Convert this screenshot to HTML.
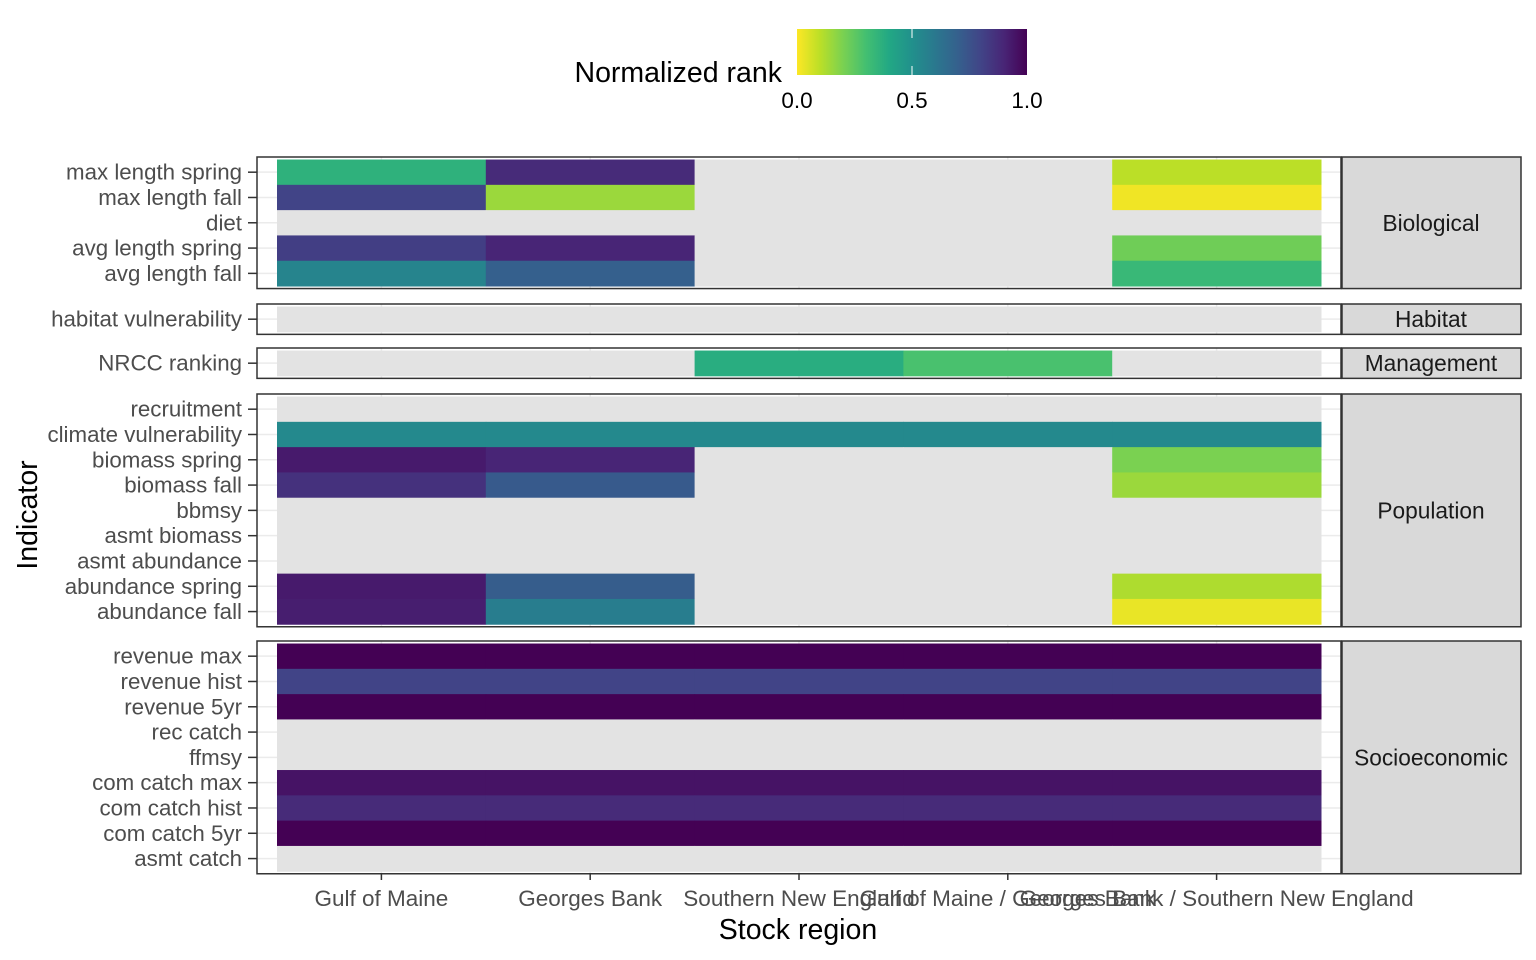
<!DOCTYPE html>
<html><head><meta charset="utf-8"><style>
body{margin:0;background:#fff;}
svg{display:block;font-family:"Liberation Sans",Arial,sans-serif;}
</style></head><body>
<svg id="chart" width="1536" height="960" viewBox="0 0 1536 960" xmlns="http://www.w3.org/2000/svg">
<defs>
<linearGradient id="vg" x1="0" x2="1" y1="0" y2="0">
<stop offset="0" stop-color="#FDE725"/><stop offset="0.1" stop-color="#BBDF27"/><stop offset="0.2" stop-color="#7AD151"/><stop offset="0.3" stop-color="#43BF71"/><stop offset="0.4" stop-color="#22A884"/><stop offset="0.5" stop-color="#21908C"/><stop offset="0.6" stop-color="#2A788E"/><stop offset="0.7" stop-color="#35608D"/><stop offset="0.8" stop-color="#414487"/><stop offset="0.9" stop-color="#482576"/><stop offset="1" stop-color="#440154"/>
</linearGradient>
</defs>
<g id="legend">
<text x="782" y="82" text-anchor="end" font-size="28.5" fill="#000">Normalized rank</text>
<rect x="797" y="29" width="230" height="46" fill="url(#vg)"/>
<line x1="912" y1="29" x2="912" y2="38" stroke="#fff" stroke-width="1"/>
<line x1="912" y1="66" x2="912" y2="75" stroke="#fff" stroke-width="1"/>
<text x="797" y="108" text-anchor="middle" font-size="22.5" fill="#000">0.0</text>
<text x="912" y="108" text-anchor="middle" font-size="22.5" fill="#000">0.5</text>
<text x="1027" y="108" text-anchor="middle" font-size="22.5" fill="#000">1.0</text>
</g>
<g id="plot"></g>
<text x="798" y="939" text-anchor="middle" font-size="28.5" fill="#000">Stock region</text>
<text transform="translate(37,515) rotate(-90)" text-anchor="middle" font-size="28.5" fill="#000">Indicator</text>
</svg>
<script>
const regions = ["Gulf of Maine","Georges Bank","Southern New England","Gulf of Maine / Georges Bank","Georges Bank / Southern New England"];
const facets = ["Biological","Habitat","Management","Population","Socioeconomic"];
const bioRows = ["max length spring","max length fall","diet","avg length spring","avg length fall"];
const bioVals = [[0.36,0.88,null,null,0.1],[0.8,0.15,null,null,0.02],[null,null,null,null,null],[0.82,0.9,null,null,0.22],[0.55,0.7,null,null,0.33]];
const habRows = ["habitat vulnerability"];
const habVals = [[null,null,null,null,null]];
const mgmtRows = ["NRCC ranking"];
const mgmtVals = [[null,null,0.38,0.29,null]];
const popRows = ["recruitment","climate vulnerability","biomass spring","biomass fall","bbmsy","asmt biomass","asmt abundance","abundance spring","abundance fall"];
const popVals = [[null,null,null,null,null],[0.53,0.53,0.53,0.53,0.53],[0.93,0.9,null,null,0.2],[0.86,0.72,null,null,0.15],[null,null,null,null,null],[null,null,null,null,null],[null,null,null,null,null],[0.93,0.71,null,null,0.12],[0.92,0.58,null,null,0.03]];
const socRows = ["revenue max","revenue hist","revenue 5yr","rec catch","ffmsy","com catch max","com catch hist","com catch 5yr","asmt catch"];
const socVals = [[1,1,1,1,1],[0.8,0.8,0.8,0.8,0.8],[1,1,1,1,1],[null,null,null,null,null],[null,null,null,null,null],[0.95,0.95,0.95,0.95,0.95],[0.88,0.88,0.88,0.88,0.88],[1,1,1,1,1],[null,null,null,null,null]];

const vir=["#FDE725","#BBDF27","#7AD151","#43BF71","#22A884","#21908C","#2A788E","#35608D","#414487","#482576","#440154"];
function hex(h){return [1,3,5].map(i=>parseInt(h.substr(i,2),16));}
function color(v){const t=Math.max(0,Math.min(1,v))*10;const i=Math.min(9,Math.floor(t));const f=t-i;const a=hex(vir[i]),b=hex(vir[i+1]);return "rgb("+a.map((c,k)=>Math.round(c+(b[k]-c)*f)).join(",")+")";}

const NS="http://www.w3.org/2000/svg";
const g=document.getElementById("plot");
function el(tag,attrs,parent){const e=document.createElementNS(NS,tag);for(const k in attrs)e.setAttribute(k,attrs[k]);(parent||g).appendChild(e);return e;}
const px0=257,px1=1341,tileW=208.8,tileX0=277;
function xCenter(j){return tileX0+tileW*(j+0.5);}
const rowH=25.3;
const panelTops=[157,304,348,394,641];
const rowsList=[bioRows,habRows,mgmtRows,popRows,socRows];
const valsList=[bioVals,habVals,mgmtVals,popVals,socVals];
facets.forEach((f,p)=>{
  const rows=rowsList[p],vals=valsList[p];
  const top=panelTops[p],h=(rows.length+0.2)*rowH;
  const pg=el("g",{});
  
  
  el("rect",{x:px0,y:top,width:px1-px0,height:h,fill:"#fff"},pg);
  regions.forEach((r,j)=>el("line",{x1:xCenter(j),x2:xCenter(j),y1:top,y2:top+h,stroke:"#ebebeb","stroke-width":1.5},pg));
  rows.forEach((r,i)=>{const yc=top+rowH*(i+0.6);el("line",{x1:px0,x2:px1,y1:yc,y2:yc,stroke:"#ebebeb","stroke-width":1.5},pg);});
  rows.forEach((r,i)=>{
    const y=top+rowH*(i+0.1);
    regions.forEach((reg,j)=>{
      const v=vals[i][j];
      const t=el("rect",{x:tileX0+tileW*j,y:y,width:tileW+0.5,height:rowH+0.5,fill:v==null?"#e3e3e3":color(v)},pg);
      
      
    });
    const yc=y+rowH/2;
    el("line",{x1:248,x2:257,y1:yc,y2:yc,stroke:"#333","stroke-width":1.5},pg);
    const lab=el("text",{x:242,y:yc+7.5,"text-anchor":"end","font-size":22.3,fill:"#4d4d4d"},pg);
    lab.textContent=r;
    
    
  });
  el("rect",{x:px0,y:top,width:px1-px0,height:h,fill:"none",stroke:"#333","stroke-width":1.5},pg);
  const s=el("rect",{x:1342,y:top,width:179,height:h,fill:"#d9d9d9",stroke:"#333","stroke-width":1.5},pg);
  
  
  const st=el("text",{x:1431,y:top+h/2+8,"text-anchor":"middle","font-size":22.7,fill:"#1a1a1a"},pg);
  st.textContent=f;
  
  
});
regions.forEach((r,j)=>{
  el("line",{x1:xCenter(j),x2:xCenter(j),y1:873,y2:880,stroke:"#333","stroke-width":1.5});
  const t=el("text",{x:xCenter(j),y:906,"text-anchor":"middle","font-size":22.5,fill:"#4d4d4d"});
  t.textContent=r;
  
  
});
</script>
</body></html>
